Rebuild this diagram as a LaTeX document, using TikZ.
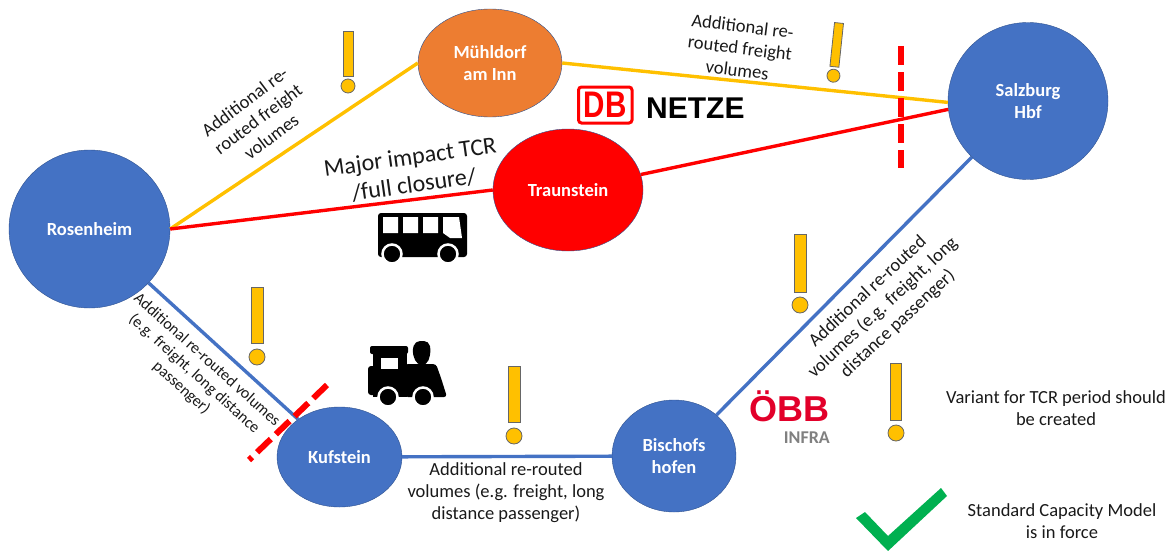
\documentclass[tikz,border=0pt]{standalone}
\usepackage{fontspec}
\usepackage{xcolor}
\usepackage{tikz}
\usetikzlibrary{shapes.geometric}
\setmainfont{Carlito}
\newfontfamily\logofont{Liberation Sans}
\definecolor{nodeblue}{HTML}{4472C4}
\definecolor{darkoutline}{HTML}{2F528F}
\definecolor{nodeorange}{HTML}{ED7D31}
\definecolor{warnyellow}{HTML}{FFC000}
\definecolor{okgreen}{HTML}{00B050}
\definecolor{obbred}{HTML}{E2002A}
\newcommand{\warnmark}[7]{%
  \begin{scope}[shift={(#1,#2)}, rotate=#5]
    \draw[warn] (-#4/2,0) rectangle (#4/2,#3);
    \draw[warn] (0,#6) circle (#7);
  \end{scope}}
\tikzset {
  % stations
  main/.style = {draw=darkoutline, ellipse, inner sep=0pt, text=white, align=center,
    font=\fontsize{18.5}{22}\selectfont\bfseries},
  % lines between the stations
  blueline/.style={nodeblue, line width=3.4pt},
  yellowline/.style={warnyellow, line width=3.4pt},
  redline/.style={red, line width=3.4pt},
  % closed section
  cut/.style={red, line width=6pt, dash pattern=on 19pt off 7pt},
  % exclamation marks
  warn/.style={draw=black!60, fill=warnyellow, line width=0.8pt},
  % texts
  note/.style={align=center, inner sep=0pt, text=black!90, font=\fontsize{18.5}{22}\selectfont},
}
\begin{document}
\begin{tikzpicture}[x=1pt, y=-1pt]
  \useasboundingbox (0,0) rectangle (1172,551);
  \node[main, fill=nodeblue, minimum width=161pt, minimum height=158pt] (rosen) at (89.5,229) {Rosenheim};
  \node[main, fill=nodeorange, minimum width=144pt, minimum height=108pt] (mueh) at (490,63) {Mühldorf\\am Inn};
  \node[main, fill=red, minimum width=150pt, minimum height=122pt] (traun) at (568,190) {Traunstein};
  \node[main, fill=nodeblue, minimum width=160pt, minimum height=157pt] (salz) at (1028,101) {Salzburg\\Hbf};
  \node[main, fill=nodeblue, minimum width=125pt, minimum height=100pt] (kuf) at (339.5,457) {Kufstein};
  \node[main, fill=nodeblue, minimum width=124pt, minimum height=112pt] (bisch) at (674,456) {Bischofs\\hofen};

  \draw[yellowline] (rosen.0) -- (mueh.180);
  \draw[yellowline] (mueh.0) -- (salz.181);
  \draw[redline] (rosen.0) -- (traun.180);
  \draw[redline] (traun.12) -- (salz.186);
  \draw[blueline] (rosen) -- (kuf);
  \draw[blueline] (kuf) -- (bisch);
  \draw[blueline] (bisch.44) -- (salz.225);

  % closed sections
  \coordinate (cuta) at (901,46);
  \coordinate (cutb) at (901,168);
  \coordinate (cutc) at (249,460);
  \coordinate (cutd) at (327,385);
  \draw[cut] (cuta) -- (cutb);
  \draw[cut] (cutd) -- (cutc);

  \warnmark{348}{31}{45}{10}{0}{55}{7}
  \warnmark{839}{23}{44}{9}{-6}{53}{6.5}
  \warnmark{800}{234}{58}{12}{0}{71}{8}
  \warnmark{257}{287}{56}{12}{0}{70}{8}
  \warnmark{514}{366}{56}{12}{0}{70}{8}
  \warnmark{896}{363}{57}{11}{0}{70}{8}

  \node[note, rotate=37] (lblmueh) at (258,119) {Additional re-\\routed freight\\volumes};
  \node[note, rotate=-7] (lblsalz) at (740,48) {Additional re-\\routed freight\\volumes};
  \node[note, rotate=8, font=\fontsize{24}{28}\selectfont] (lbltcr) at (412,171) {Major impact TCR\\/full closure/};
  \node[note, rotate=-42, font=\fontsize{16}{19}\selectfont] (lblkuf) at (194,374) {Additional re-routed volumes\\(e.g. freight, long distance\\passenger)};
  \node[note] (lblbisch) at (506,493) {Additional re-routed\\volumes (e.g. freight, long\\distance passenger)};
  \node[note, rotate=43] (lblsalzb) at (883,308) {Additional re-routed\\volumes (e.g. freight, long\\distance passenger)};
  \node[note] (lblvariant) at (1056,408) {Variant for TCR period should\\be created};
  \node[note] (lblstandard) at (1062,521) {Standard Capacity Model\\is in force};

  % DB logo
  \draw[red, line width=3pt, rounded corners=3pt] (578.5,87) rectangle (632,123);
  \node[red, inner sep=0pt, xscale=.8, font=\logofont\fontsize{37}{37}\selectfont\bfseries] (dblogo) at (605,105) {DB};
  \node[inner sep=0pt, anchor=west, font=\logofont\fontsize{30}{30}\selectfont\bfseries] (netze) at (646,108) {NETZE};

  % OBB logo
  \node[obbred, inner sep=0pt, anchor=base west, font=\logofont\fontsize{36}{36}\selectfont\bfseries] (obb) at (749,421) {ÖBB};
  \node[black!50, inner sep=0pt, anchor=base east, font=\fontsize{18}{18}\selectfont\bfseries] (infra) at (830,443) {INFRA};

  % bus
  \fill[rounded corners=3pt] (378,213) rectangle (467,257);
  \fill[white] (383,217) rectangle (398,233) (403,217) rectangle (418,233) (423,217) rectangle (438,233);
  \fill[white] (443,217) -- (459,217) -- (462,238) -- (450,238) -- (443,233) -- cycle;
  \draw[fill=black, draw=white, line width=2.5pt] (392,254) circle (9.5) (448,254) circle (9.5);

  % locomotive
  \fill[rounded corners=2pt] (370,346) rectangle (408,354);
  \fill (373,350) rectangle (407,397);
  \fill[rounded corners=3pt] (368,366) rectangle (380,395);
  \fill[rounded corners=5pt] (415,341) -- (429,341) -- (431,352) -- (427,365) -- (417,365) -- (412,352) -- cycle;
  \fill[rounded corners=3pt] (405,364) -- (436,364) -- (441,378) -- (447,397) -- (405,397) -- cycle;
  \fill[white] (381,358) rectangle (398,369);
  \draw[fill=black, draw=white, line width=2.5pt] (388,397) circle (9.5) (423,397) circle (9.5);

  % tick
  \fill[okgreen] (856,518) -- (865,512) -- (888,536) -- (941,488) -- (947,496) -- (888,551) -- cycle;
\end{tikzpicture}
\end{document}
